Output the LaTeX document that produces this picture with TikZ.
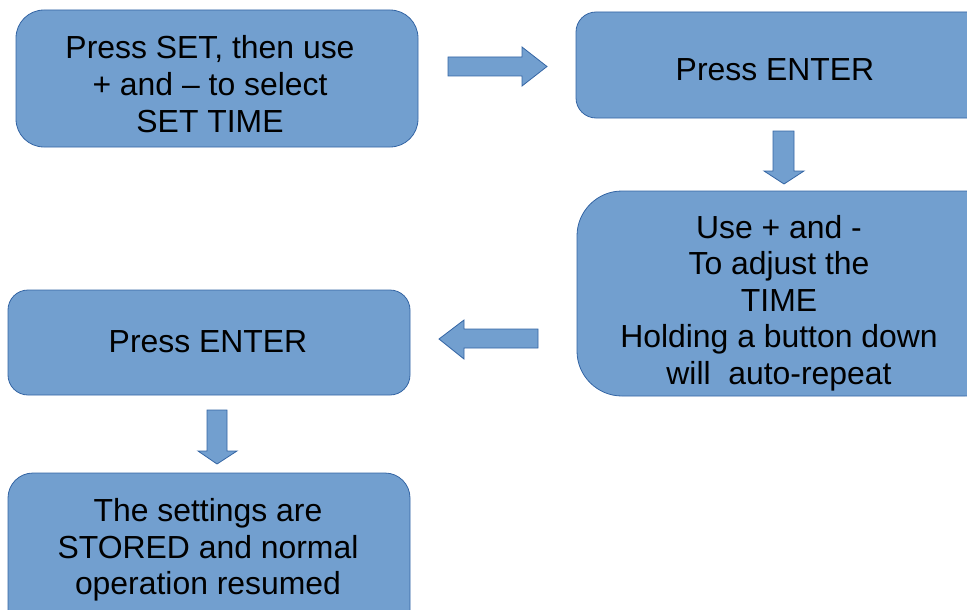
\documentclass[tikz,border=0pt]{standalone}
\usepackage{fontspec}
\setmainfont{Liberation Sans}
\definecolor{boxfill}{HTML}{729FCF}
\definecolor{boxline}{HTML}{3465A4}
\begin{document}
\begin{tikzpicture}[x=1pt,y=-1pt,
  box/.style={draw=boxline,fill=boxfill,line width=0.8pt,inner sep=0pt,outer sep=0pt},
  txt/.style={align=center,inner sep=0pt,font=\fontsize{31.9}{36.6}\selectfont},
  blockarrow/.style={draw=boxline,fill=boxfill,line width=0.8pt,line join=miter}]
\clip (0,0) rectangle (967,610);
\useasboundingbox (0,0) rectangle (967,610);
% boxes
\node[box,rounded corners=28pt,minimum width=402pt,minimum height=137pt] (b1) at (217,78.5) {};
\node[box,rounded corners=20pt,minimum width=419pt,minimum height=106pt] (b2) at (785.5,65) {};
\node[box,rounded corners=45pt,minimum width=433pt,minimum height=205pt] (b3) at (793.5,293.5) {};
\node[box,rounded corners=20pt,minimum width=402pt,minimum height=105pt] (b4) at (209,342.5) {};
\node[box,rounded corners=25pt,minimum width=402pt,minimum height=177pt] (b5) at (209,561.5) {};
% texts
\node[txt] (t1) at (210,84) {Press SET, then use\\+ and – to select\\SET TIME};
\node[txt] (t2) at (775,70) {Press ENTER};
\node[txt] (t3) at (779,303) {Use + and -\\To adjust the\\TIME\\Holding a button down\\will\ \ auto-repeat};
\node[txt] (t4) at (208,342) {Press ENTER};
\node[txt] (t5) at (208,550) {The settings are\\STORED and normal\\operation resumed};
% block arrows
\draw[blockarrow] (448,57) -- (522,57) -- (522,47) -- (547,66.5) -- (522,86) -- (522,76) -- (448,76) -- cycle;
\draw[blockarrow] (773,131) -- (794,131) -- (794,171) -- (804,171) -- (784,184) -- (764,171) -- (773,171) -- cycle;
\draw[blockarrow] (538,329) -- (464,329) -- (464,320) -- (439,339) -- (464,359) -- (464,348) -- (538,348) -- cycle;
\draw[blockarrow] (207,410) -- (227,410) -- (227,451) -- (237,451) -- (217,464) -- (198,451) -- (207,451) -- cycle;
\end{tikzpicture}
\end{document}
